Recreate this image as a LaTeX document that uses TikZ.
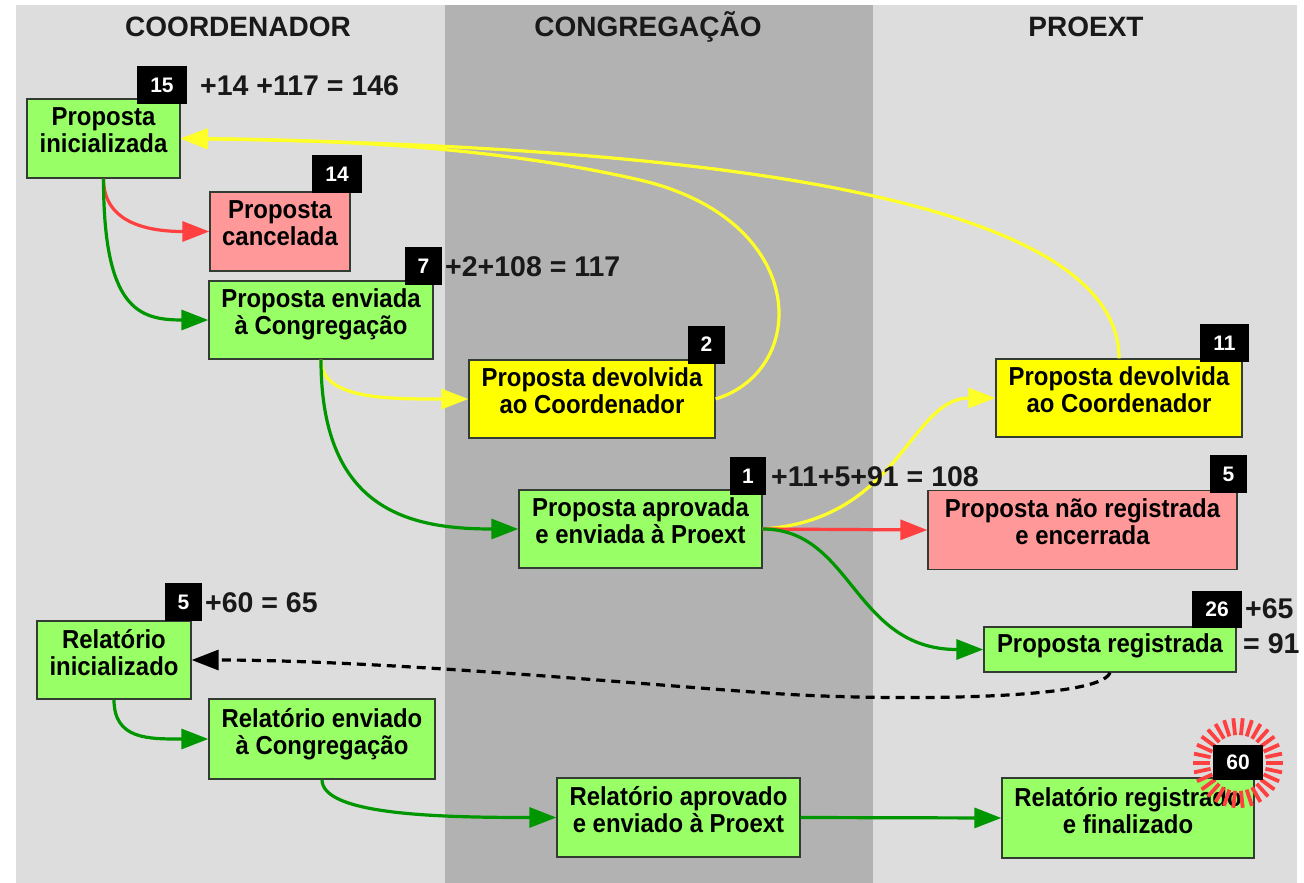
\documentclass[tikz,border=0pt]{standalone}
\usepackage{fontspec}
\setmainfont{Liberation Sans}
\newfontfamily\boxfam[FakeStretch=0.92]{Liberation Sans}
\usetikzlibrary{arrows.meta}
\definecolor{boxgreen}{RGB}{153,255,102}
\definecolor{boxred}{RGB}{255,153,153}
\definecolor{boxyellow}{RGB}{255,255,0}
\definecolor{linegreen}{RGB}{0,150,0}
\definecolor{linered}{RGB}{255,64,64}
\definecolor{lineyellow}{RGB}{255,255,40}
\definecolor{lanelight}{RGB}{221,221,221}
\definecolor{lanedark}{RGB}{178,178,178}
\definecolor{boxborder}{RGB}{50,60,50}
\newcommand\bxfont{\boxfam\bfseries\fontsize{26}{27}\selectfont}
\newcommand\hdfont{\bfseries\fontsize{28}{32}\selectfont}
\newcommand\bgfont{\bfseries\fontsize{21}{24}\selectfont}
\newcommand\ctfont{\bfseries\fontsize{28.5}{32}\selectfont}
\tikzset{
  box/.style={draw=boxborder, line width=1.3pt, inner sep=0pt, align=center, font=\bxfont, text=black, text depth=16pt},
  gbox/.style={box, fill=boxgreen},
  rbox/.style={box, fill=boxred},
  ybox/.style={box, fill=boxyellow},
  badge/.style={fill=black, text=white, font=\bgfont, minimum height=38pt, minimum width=37pt, inner sep=0pt},
  count/.style={font=\ctfont, anchor=west, inner sep=0pt, text=black!90},
  lanehead/.style={font=\hdfont, text=black!90, inner sep=0pt},
  conn/.style={line width=3.2pt, -{Triangle[length=27pt,width=20pt]}},
  garrow/.style={conn, draw=linegreen},
  rarrow/.style={conn, draw=linered},
  yarrow/.style={conn, draw=lineyellow},
  darrow/.style={conn, draw=black, dash pattern=on 9pt off 6pt},
  burst/.style={draw=linered, line width=3.8pt},
}
\begin{document}
\begin{tikzpicture}[x=1pt,y=-1pt]
\useasboundingbox (0,0) rectangle (1304,883);
\fill[white] (0,0) rectangle (1304,883);
% lanes
\fill[lanelight] (16,5) rectangle (445,883);
\fill[lanedark] (445,5) rectangle (873,883);
\fill[lanelight] (873,5) rectangle (1297,883);
\node[lanehead] (h1) at (238,27) {COORDENADOR};
\node[lanehead] (h2) at (648,27) {CONGREGAÇÃO};
\node[lanehead] (h3) at (1086,27) {PROEXT};

% boxes
\node[gbox, minimum width=153pt, minimum height=79pt] (init) at (103.5,138.5) {Proposta\\inicializada};
\node[rbox, minimum width=140pt, minimum height=79pt] (cancel) at (280,231.5) {Proposta\\cancelada};
\node[gbox, minimum width=224pt, minimum height=78pt] (env) at (321,320) {Proposta enviada\\à Congregação};
\node[ybox, minimum width=246pt, minimum height=78pt] (dev1) at (592,399) {Proposta devolvida\\ao Coordenador};
\node[gbox, minimum width=243pt, minimum height=78pt] (aprov) at (640.5,529) {Proposta aprovada\\e enviada à Proext};
\node[ybox, minimum width=246pt, minimum height=78pt] (dev2) at (1119,398) {Proposta devolvida\\ao Coordenador};
\node[rbox, minimum width=309pt, minimum height=79pt] (naoreg) at (1082.5,530) {Proposta não registrada\\e encerrada};
\node[gbox, minimum width=252pt, minimum height=45pt, text depth=13pt] (reg) at (1110,649.5) {Proposta registrada};
\node[gbox, minimum width=154pt, minimum height=78pt] (relinit) at (114,660) {Relatório\\inicializado};
\node[gbox, minimum width=226pt, minimum height=80pt] (relenv) at (322,739) {Relatório enviado\\à Congregação};
\node[gbox, minimum width=243pt, minimum height=79pt] (relapr) at (678.5,817.5) {Relatório aprovado\\e enviado à Proext};
\node[gbox, minimum width=252pt, minimum height=80pt] (relreg) at (1128,818) {Relatório registrado\\e finalizado};

% connectors
\coordinate (ya) at (640,180);
\coordinate (dm) at (800,695);
\draw[rarrow] (init.south) .. controls +(0,45) and +(-60,0) .. (cancel.west);
\draw[garrow] (init.south) .. controls +(0,130) and +(-70,0) .. (env.west);
\draw[yarrow] (env.south) .. controls +(0,40) and +(-80,0) .. (dev1.west);
\draw[garrow] (env.south) .. controls +(0,150) and +(-110,0) .. (aprov.west);
\draw[yarrow] (dev1.east) .. controls (810,370) and (810,220) .. (ya) .. controls (500,148) and (350,140) .. (init.east);
\draw[yarrow] (dev2.north) .. controls +(0,-180) and (600,145) .. (init.east);
\draw[yarrow] (aprov.east) .. controls (900,520) and (910,398) .. (dev2.west);
\draw[rarrow] (aprov.east) -- (naoreg.west);
\draw[garrow] (aprov.east) .. controls +(90,0) and +(-130,0) .. (reg.west);
\draw[darrow] (reg.south) .. controls (1100,700) and (900,700) .. (dm) .. controls (700,690) and (400,660) .. (relinit.east);
\draw[garrow] (relinit.south) .. controls +(0,40) and +(-60,0) .. (relenv.west);
\draw[garrow] (relenv.south) .. controls +(0,35) and +(-120,0) .. (relapr.west);
\draw[garrow] (relapr.east) -- (relreg.west);

% starburst
\coordinate (sb) at (1238,763);
\foreach \a in {0,12,...,348}
  \draw[burst] ([shift={(\a:28)}]sb) -- ([shift={(\a:45)}]sb);

% badges
\node[badge, minimum width=50pt] (b15) at (162,85) {15};
\node[badge, minimum width=50pt] (b14) at (337,174) {14};
\node[badge] (b7) at (423.5,266) {7};
\node[badge] (b2) at (706.5,344.5) {2};
\node[badge, minimum width=36pt] (b1) at (748,476) {1};
\node[badge, minimum width=49pt] (b11) at (1224.5,343) {11};
\node[badge] (b5r) at (1228.5,474) {5};
\node[badge, minimum width=50pt, minimum height=37pt] (b26) at (1217,609.5) {26};
\node[badge] (b5l) at (183.5,602) {5};
\node[badge, minimum width=50pt, minimum height=35pt] (b60) at (1238,762.5) {60};

% counts
\node[count] (c1) at (200,86) {+14 +117 = 146};
\node[count] (c2) at (445,267) {+2+108 = 117};
\node[count] (c3) at (771,477) {+11+5+91 = 108};
\node[count] (c4) at (205,603) {+60 = 65};
\node[count] (c5) at (1245,609) {+65};
\node[count] (c6) at (1243,644) {= 91};
\end{tikzpicture}
\end{document}
